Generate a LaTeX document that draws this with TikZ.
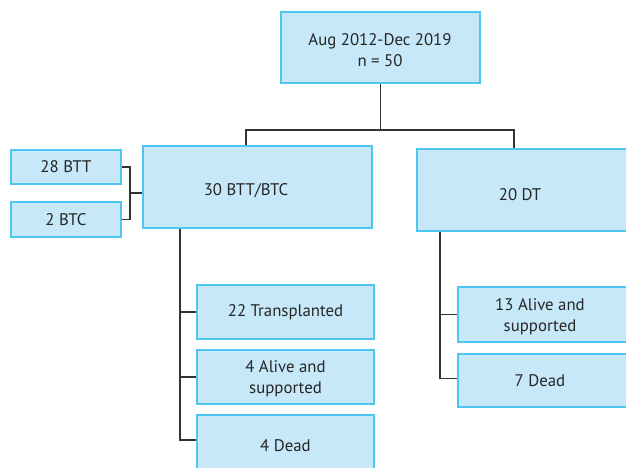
\documentclass[tikz,border=0pt]{standalone}
\usepackage{fontspec}
\setmainfont{PT Sans}
\definecolor{boxfill}{HTML}{C6E8F8}
\definecolor{boxline}{HTML}{4EC6EF}
\definecolor{conn}{HTML}{333333}
\begin{document}
\begin{tikzpicture}[x=1pt,y=-1pt,
  box/.style={draw=boxline,fill=boxfill,line width=1.3pt,inner sep=0pt,align=center,
    font=\fontsize{16.8}{21}\selectfont,text=black!85},
  txt/.style={inner sep=0pt,align=center,font=\fontsize{16.8}{21}\selectfont,text=black!85},
  link/.style={draw=conn,line width=1.1pt}]
\useasboundingbox (0,0) rectangle (626,468);
% boxes
\node[box,minimum width=199pt,minimum height=71pt] (top) at (380.5,47.5) {};
\node[txt] (toptext) at (380,50) {Aug 2012-Dec 2019\\n = 50};
\node[box,minimum width=229pt,minimum height=82pt] (btc) at (257.5,187) {};
\node[txt] (btctext) at (246,191) {30 BTT/BTC};
\node[box,minimum width=110pt,minimum height=34pt] (btt) at (66,167) {28 BTT};
\node[box,minimum width=110pt,minimum height=35pt] (btc2) at (66,219.5) {2 BTC};
\node[box,minimum width=213pt,minimum height=82pt] (dt) at (523.5,190) {};
\node[txt] (dttext) at (520,195) {20 DT};
\node[box,minimum width=177pt,minimum height=54pt] (tr) at (285.5,312) {22 Transplanted};
\node[box,minimum width=177pt,minimum height=54pt] (al4) at (285.5,377) {};
\node[txt] (al4text) at (285.5,379) {4 Alive and\\supported};
\node[box,minimum width=177pt,minimum height=62pt] (de4) at (285.5,446) {4 Dead};
\node[box,minimum width=172pt,minimum height=55pt] (al13) at (544,314.5) {};
\node[txt] (al13text) at (540,317) {13 Alive and\\supported};
\node[box,minimum width=172pt,minimum height=53pt] (de7) at (544,380.5) {};
\node[txt] (de7text) at (540,381) {7 Dead};
% junction coordinates
\coordinate (bl) at (246,130);
\coordinate (br) at (514,130);
\coordinate (bk) at (130,193);
\coordinate (lx) at (180,228);
\coordinate (rx) at (440,231);
% connectors
\draw[link] (top.south) -- (top.south |- bl);
\draw[link] (btc.north -| bl) -- (bl) -- (br) -- (dt.north -| br);
\draw[link] (btt.east) -| (bk) |- (btc2.east);
\draw[link] (bk) -- (btc.west |- bk);
\draw[link] (btc.south -| lx) |- ([yshift=6pt]de4.west);
\draw[link] (lx |- tr.west) -- (tr.west);
\draw[link] (lx |- al4.west) -- (al4.west);
\draw[link] (dt.south -| rx) |- ([yshift=2pt]de7.west);
\draw[link] (rx |- al13.west) -- (al13.west);
\end{tikzpicture}
\end{document}
